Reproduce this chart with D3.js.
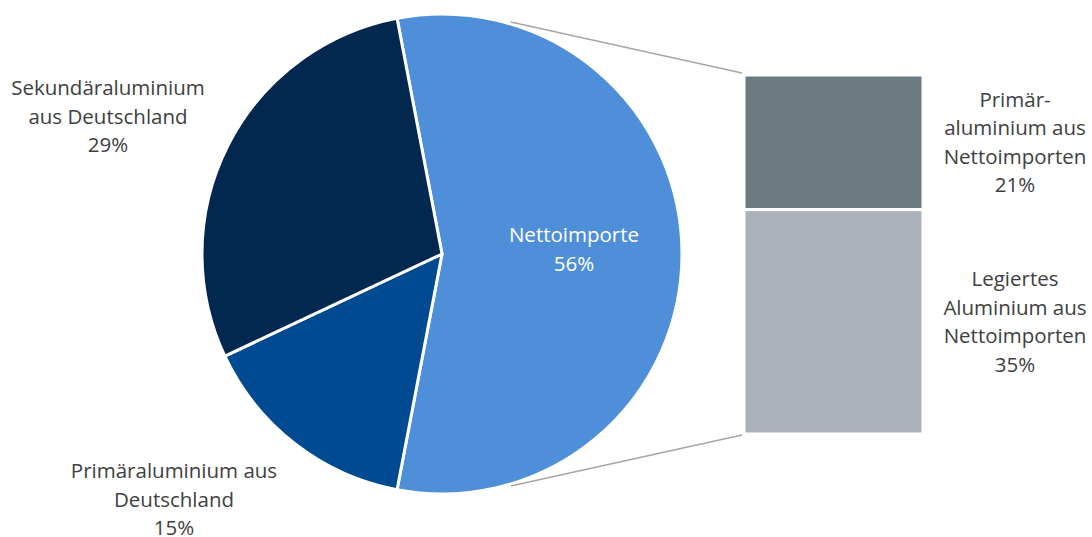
<!DOCTYPE html>
<html>
<head>
<meta charset="utf-8">
<script src="https://cdn.jsdelivr.net/npm/d3@7"></script>
<style>
  body { margin: 0; background: #ffffff; }
  svg text { font-family: "Open Sans", sans-serif; }
</style>
</head>
<body>
<svg id="chart" width="1092" height="537"></svg>
<script>
// Aluminium supply split: main pie plus a stacked bar that breaks down net imports
const pieCategories = ["Nettoimporte", "Primäraluminium aus Deutschland", "Sekundäraluminium aus Deutschland"];
const pieValues = [56, 15, 29];
const pieLabelLines = [
  ["Nettoimporte", "56%"],
  ["Primäraluminium aus", "Deutschland", "15%"],
  ["Sekundäraluminium", "aus Deutschland", "29%"]
];
const barCategories = ["Primäraluminium aus Nettoimporten", "Legiertes Aluminium aus Nettoimporten"];
const barValues = [21, 35];
const barLabelLines = [
  ["Primär-", "aluminium aus", "Nettoimporten", "21%"],
  ["Legiertes", "Aluminium aus", "Nettoimporten", "35%"]
];

// Styling and layout
const pieColors = ["#4f8fd9", "#004a92", "#022850"];
const barColors = ["#6c7a82", "#abb2b9"];
const textColor = "#404040";
const fontSize = 20.5;
const lineHeight = 28.5;

const svg = d3.select("#chart");
const cx = 442, cy = 254, radius = 240;

// The split-out slice is centred on the right-hand side (90°)
const splitShare = pieValues[0] / d3.sum(pieValues);
const start = Math.PI / 2 - splitShare * Math.PI;

const pie = d3.pie().sort(null).value(d => d)
  .startAngle(start).endAngle(start + 2 * Math.PI);
const arcs = pie(pieValues);
const arc = d3.arc().innerRadius(0).outerRadius(radius);

const gPie = svg.append("g").attr("transform", `translate(${cx},${cy})`);

// Stacked bar on the right
const barX = d3.scaleBand().domain(["bar"]).range([744, 923]).padding(0);
const barY = d3.scaleLinear().domain([0, d3.sum(barValues)]).range([75, 434]);
let acc = 0;
const stack = barValues.map((v, i) => {
  const s = { i, y0: acc, y1: acc + v, v };
  acc += v;
  return s;
});

// Connector lines from the pie to the bar corners
const connectorAngles = [16.5 * Math.PI / 180, 163.5 * Math.PI / 180];
const connectorEnds = [barY(0) - 2, barY(d3.sum(barValues)) + 1];
svg.append("g").selectAll("line")
  .data(connectorAngles)
  .join("line")
  .attr("x1", a => cx + (radius + 2) * Math.sin(a))
  .attr("y1", a => cy - (radius + 2) * Math.cos(a))
  .attr("x2", barX("bar") - 2)
  .attr("y2", (a, i) => connectorEnds[i])
  .attr("stroke", "#a6a6a6")
  .attr("stroke-width", 1.6);

gPie.selectAll("path")
  .data(arcs)
  .join("path")
  .attr("d", arc)
  .attr("fill", (d, i) => pieColors[i])
  .attr("stroke", "#ffffff")
  .attr("stroke-width", 3)
  .attr("stroke-linejoin", "round");

svg.append("g").selectAll("rect")
  .data(stack)
  .join("rect")
  .attr("x", barX("bar"))
  .attr("width", barX.bandwidth())
  .attr("y", d => barY(d.y0))
  .attr("height", d => barY(d.y1) - barY(d.y0))
  .attr("fill", d => barColors[d.i])
  .attr("stroke", "#ffffff")
  .attr("stroke-width", 3);

// Multi-line centred label helper; (x, y) is the first baseline
function multiLabel(parent, lines, x, y, color) {
  const t = parent.append("text")
    .attr("text-anchor", "middle")
    .attr("font-size", fontSize)
    .attr("fill", color);
  lines.forEach((line, k) => {
    t.append("tspan").attr("x", x).attr("y", y + k * lineHeight).text(line);
  });
  return t;
}

// Pie labels: the inside one sits along the slice's mid angle,
// the outside ones are placed beside the pie
const midAngle = a => (a.startAngle + a.endAngle) / 2;
const insideR = radius * 0.55;
const a0 = arcs[0];
multiLabel(svg, pieLabelLines[0],
  cx + insideR * Math.sin(midAngle(a0)),
  cy - insideR * Math.cos(midAngle(a0)) - 12, "#ffffff");

const outsideAnchors = [null, [174, 478], [108, 95]];
[1, 2].forEach(i => {
  multiLabel(svg, pieLabelLines[i], outsideAnchors[i][0], outsideAnchors[i][1], textColor);
});

// Bar labels centred on each segment
const barLabelX = 1015;
stack.forEach(s => {
  const mid = (barY(s.y0) + barY(s.y1)) / 2;
  const n = barLabelLines[s.i].length;
  const firstBaseline = mid - (n - 1) * lineHeight / 2 + 7;
  multiLabel(svg, barLabelLines[s.i], barLabelX, firstBaseline, textColor);
});
</script>
</body>
</html>
